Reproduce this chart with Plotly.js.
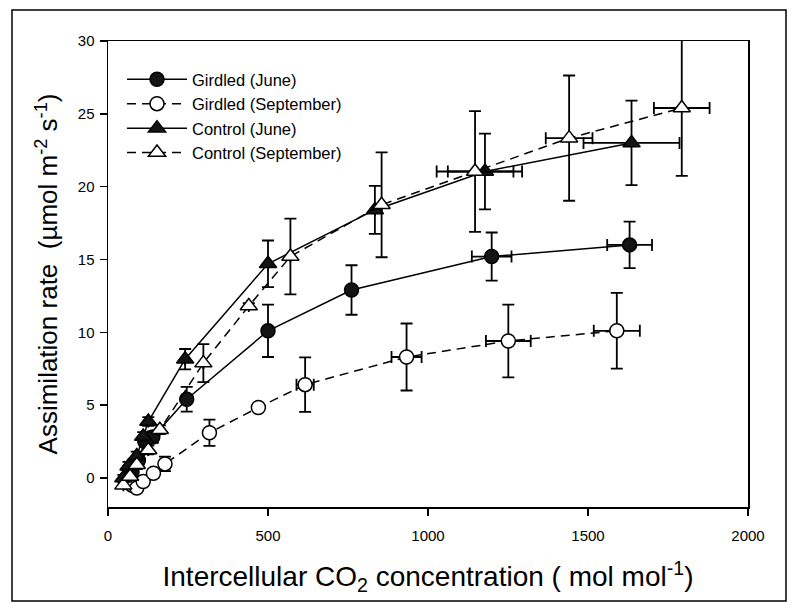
<!DOCTYPE html>
<html>
<head>
<meta charset="utf-8">
<script src="https://cdn.plot.ly/plotly-3.0.1.min.js"></script>
<style>
  html, body { margin: 0; padding: 0; background: #fff; }
  #chart { width: 798px; height: 603px; }
</style>
</head>
<body>
<div id="chart"></div>
<script>
// ---- Data ----
const seriesNames = ["Girdled (June)", "Girdled (September)", "Control (June)", "Control (September)"];

const girdledJuneX    = [55, 75, 95, 115, 140, 246, 500, 761, 1199, 1630];
const girdledJuneY    = [-0.3, 0.4, 1.2, 2.5, 2.8, 5.4, 10.1, 12.9, 15.2, 16.0];
const girdledJuneErrY = [0.2, 0.2, 0.3, 0.3, 0.4, 0.85, 1.8, 1.7, 1.65, 1.6];
const girdledJuneErrX = [0, 0, 0, 0, 0, 0, 0, 0, 62, 70];

const girdledSeptX    = [75, 90, 110, 142, 178, 317, 470, 616, 933, 1251, 1590];
const girdledSeptY    = [-0.5, -0.7, -0.25, 0.32, 0.96, 3.1, 4.83, 6.4, 8.3, 9.4, 10.1];
const girdledSeptErrY = [0.2, 0.2, 0.2, 0.3, 0.5, 0.9, 0.2, 1.87, 2.3, 2.5, 2.6];
const girdledSeptErrX = [0, 0, 0, 0, 0, 0, 0, 27, 47, 70, 72];

const controlJuneX    = [48, 64, 90, 110, 126, 241, 500, 834, 1178, 1636];
const controlJuneY    = [0, 0.8, 1.5, 2.84, 3.87, 8.15, 14.7, 18.4, 21.04, 23.0];
const controlJuneErrY = [0.2, 0.3, 0.3, 0.3, 0.3, 0.7, 1.6, 1.65, 2.6, 2.9];
const controlJuneErrX = [0, 0, 0, 0, 0, 0, 0, 0, 116, 150];

const controlSeptX    = [48, 69, 90, 126, 162, 298, 440, 570, 855, 1147, 1441, 1793];
const controlSeptY    = [-0.5, 0.1, 0.9, 1.92, 3.3, 7.88, 11.8, 15.2, 18.75, 21.04, 23.33, 25.4];
const controlSeptErrY = [0.2, 0.2, 0.3, 0.3, 0.3, 1.3, 0.2, 2.6, 3.6, 4.15, 4.3, 4.66];
const controlSeptErrX = [0, 0, 0, 0, 0, 0, 0, 0, 0, 120, 73, 87];

const xTickVals = [0, 500, 1000, 1500, 2000];
const yTickVals = [0, 5, 10, 15, 20, 25, 30];

// ---- Styling ----
const FONT = "Liberation Sans, Arial, sans-serif";
function errY(arr) { return { type: "data", array: arr, visible: true, color: "#000", thickness: 1.8, width: 6 }; }
function errX(arr) { return { type: "data", array: arr, visible: true, color: "#000", thickness: 1.8, width: 6 }; }

const traces = [
  {
    name: seriesNames[0], x: girdledJuneX, y: girdledJuneY, type: "scatter", mode: "lines+markers",
    line: { color: "#000", width: 1.5, dash: "solid" },
    marker: { symbol: "circle", size: 14, color: "#141414", line: { color: "#000", width: 1.5 } },
    error_y: errY(girdledJuneErrY), error_x: errX(girdledJuneErrX)
  },
  {
    name: seriesNames[1], x: girdledSeptX, y: girdledSeptY, type: "scatter", mode: "lines+markers",
    line: { color: "#000", width: 1.5, dash: "9px,6px" },
    marker: { symbol: "circle", size: 14, color: "#fff", line: { color: "#000", width: 1.5 } },
    error_y: errY(girdledSeptErrY), error_x: errX(girdledSeptErrX)
  },
  {
    name: seriesNames[2], x: controlJuneX, y: controlJuneY, type: "scatter", mode: "lines+markers",
    line: { color: "#000", width: 1.5, dash: "solid" },
    marker: { symbol: "triangle-up", size: 15, color: "#141414", line: { color: "#000", width: 1.5 } },
    error_y: errY(controlJuneErrY), error_x: errX(controlJuneErrX)
  },
  {
    name: seriesNames[3], x: controlSeptX, y: controlSeptY, type: "scatter", mode: "lines+markers",
    line: { color: "#000", width: 1.5, dash: "9px,6px" },
    marker: { symbol: "triangle-up", size: 15, color: "#fff", line: { color: "#000", width: 1.5 } },
    error_y: errY(controlSeptErrY), error_x: errX(controlSeptErrX)
  }
];

const L = 108, R = 50, T = 41, B = 96, W = 798, H = 603;
const pw = W - L - R, ph = H - T - B;
function px2paperX(px) { return (px - L) / pw; }
function px2paperY(py) { return (H - B - py) / ph; }

const layout = {
  width: W, height: H,
  margin: { l: L, r: R, t: T, b: B, pad: 0 },
  paper_bgcolor: "#fff", plot_bgcolor: "#fff",
  font: { family: FONT, color: "#000", size: 15 },
  showlegend: true,
  legend: {
    x: px2paperX(122), y: px2paperY(62), xanchor: "left", yanchor: "top",
    bgcolor: "rgba(0,0,0,0)", borderwidth: 0,
    font: { family: FONT, size: 16.5, color: "#000" },
    itemwidth: 60, tracegroupgap: 0
  },
  xaxis: {
    range: [0, 2000], tickvals: xTickVals, ticktext: xTickVals.map(String),
    showgrid: false, zeroline: false,
    showline: true, linecolor: "#000", linewidth: 1.5, mirror: true,
    ticks: "outside", ticklen: 7, tickwidth: 1.5, tickcolor: "#000",
    ticklabelstandoff: 7,
    tickfont: { family: FONT, size: 15, color: "#000" },
    title: { text: "Intercellular CO<sub>2</sub> concentration ( mol mol<sup>-1</sup>)", font: { family: FONT, size: 28, color: "#000" }, standoff: 24 }
  },
  yaxis: {
    range: [-2, 30], tickvals: yTickVals, ticktext: yTickVals.map(String),
    showgrid: false, zeroline: false,
    showline: true, linecolor: "#000", linewidth: 1.5, mirror: true,
    ticks: "outside", ticklen: 7, tickwidth: 1.5, tickcolor: "#000",
    ticklabelstandoff: 2,
    tickfont: { family: FONT, size: 15, color: "#000" },
    title: { text: "Assimilation rate  (µmol m<sup>-2</sup> s<sup>-1</sup>)", font: { family: FONT, size: 26, color: "#000" }, standoff: 12 }
  },
  shapes: [
    {
      type: "rect", xref: "paper", yref: "paper", layer: "above",
      x0: px2paperX(12), x1: px2paperX(786), y0: px2paperY(601), y1: px2paperY(10),
      line: { color: "#000", width: 1.5 }, fillcolor: "rgba(0,0,0,0)"
    }
  ]
};

Plotly.newPlot("chart", traces, layout, { displayModeBar: false, staticPlot: true });
</script>
</body>
</html>
